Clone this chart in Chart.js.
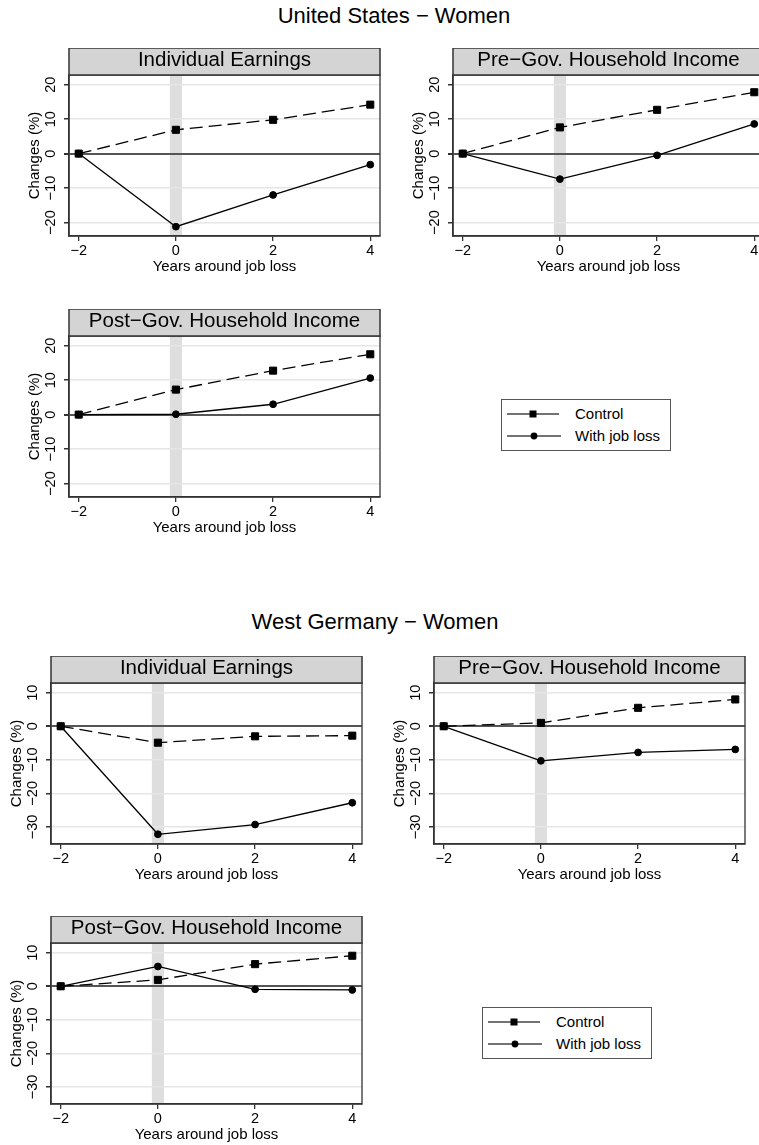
<!DOCTYPE html>
<html>
<head>
<meta charset="utf-8">
<title>Changes around job loss - Women</title>
<script src="https://cdn.jsdelivr.net/npm/chart.js@4.4.1/dist/chart.umd.min.js"></script>
<style>
  html, body { margin: 0; padding: 0; background: #fff; }
  body { width: 759px; height: 1145px; position: relative; overflow: hidden; font-family: "Liberation Sans", Arial, sans-serif; color: #000; }
  .title { position: absolute; font-size: 22px; line-height: 22px; white-space: nowrap; transform: translateX(-50%); }
  .panel { position: absolute; width: 381px; height: 233px; }
  .legend { position: absolute; width: 170px; height: 52px; border: 1.5px solid #555; box-sizing: border-box; }
  .legend .row { position: absolute; left: 0; width: 100%; height: 20px; font-size: 15px; line-height: 20px; }
  .legend svg { position: absolute; left: 5px; top: 5px; }
  .legend span { position: absolute; left: 73px; top: 0; }
</style>
</head>
<body>

<div class="title" style="left:394px;top:5px">United States − Women</div>
<canvas id="us1" class="panel" style="left:19px;top:48px"></canvas>
<canvas id="us2" class="panel" style="left:403px;top:48px"></canvas>
<canvas id="us3" class="panel" style="left:19px;top:309px"></canvas>
<div class="legend" style="left:501px;top:399px">
  <div class="row" style="top:4px"><svg width="54" height="10"><line x1="0" y1="5" x2="52" y2="5" stroke="#444" stroke-width="1.5"/><rect x="22.5" y="1.5" width="7" height="7" fill="#000"/></svg><span>Control</span></div>
  <div class="row" style="top:26px"><svg width="54" height="10"><line x1="0" y1="5" x2="54" y2="5" stroke="#444" stroke-width="1.5"/><circle cx="27" cy="5" r="3.4" fill="#000"/></svg><span>With job loss</span></div>
</div>

<div class="title" style="left:375px;top:611px">West Germany − Women</div>
<canvas id="de1" class="panel" style="left:1px;top:656px"></canvas>
<canvas id="de2" class="panel" style="left:384px;top:656px"></canvas>
<canvas id="de3" class="panel" style="left:1px;top:916px"></canvas>
<div class="legend" style="left:482px;top:1007px">
  <div class="row" style="top:4px"><svg width="54" height="10"><line x1="0" y1="5" x2="52" y2="5" stroke="#444" stroke-width="1.5"/><rect x="22.5" y="1.5" width="7" height="7" fill="#000"/></svg><span>Control</span></div>
  <div class="row" style="top:26px"><svg width="54" height="10"><line x1="0" y1="5" x2="54" y2="5" stroke="#444" stroke-width="1.5"/><circle cx="27" cy="5" r="3.4" fill="#000"/></svg><span>With job loss</span></div>
</div>

<script>
// years relative to job loss
const years = [-2, 0, 2, 4];
const xTicks = [-2, 0, 2, 4];
const jobLossBand = [-0.125, 0.125];

// United States - Women (%)
const usEarnControl = [0, 6.9, 9.8, 14.2];
const usEarnJobLoss = [0, -21.2, -12.0, -3.2];
const usPreControl = [0, 7.6, 12.7, 17.8];
const usPreJobLoss = [0, -7.4, -0.5, 8.6];
const usPostControl = [0, 7.25, 12.75, 17.5];
const usPostJobLoss = [0, 0.1, 3.0, 10.6];
const usTicks = [-20, -10, 0, 10, 20];

// West Germany - Women (%)
const deEarnControl = [0, -4.9, -3.0, -2.8];
const deEarnJobLoss = [0, -32.2, -29.3, -22.8];
const dePreControl = [0, 1.0, 5.5, 8.0];
const dePreJobLoss = [0, -10.3, -7.8, -6.9];
const dePostControl = [0, 1.9, 6.6, 9.1];
const dePostJobLoss = [0, 5.9, -0.9, -1.1];
const deTicks = [-30, -20, -10, 0, 10];

const FONT = "'Liberation Sans', Arial, sans-serif";
Chart.defaults.font.family = FONT;
Chart.defaults.color = '#000';

const minusFmt = v => v < 0 ? '\u2212' + Math.abs(v) : String(v);

// grey band at year 0, under the grid
const bandPlugin = {
    id: 'band',
    beforeDraw(chart) {
        const {ctx, chartArea, scales: {x}} = chart;
        const x0 = x.getPixelForValue(jobLossBand[0]);
        const x1 = x.getPixelForValue(jobLossBand[1]);
        ctx.save();
        ctx.fillStyle = '#dedede';
        ctx.fillRect(x0, chartArea.top, x1 - x0, chartArea.bottom - chartArea.top);
        ctx.restore();
    }
};

// plot frame + grey title strip
const stripPlugin = {
    id: 'strip',
    afterDraw(chart, args, opts) {
        const {ctx, chartArea: a} = chart;
        ctx.save();
        ctx.strokeStyle = '#333';
        ctx.lineWidth = 1.3;
        ctx.strokeRect(a.left, a.top, a.right - a.left, a.bottom - a.top);
        const h = 27;
        ctx.fillStyle = '#d4d4d4';
        ctx.fillRect(a.left, a.top - h, a.right - a.left, h);
        ctx.lineWidth = 1.5;
        ctx.strokeRect(a.left, a.top - h, a.right - a.left, h);
        ctx.fillStyle = '#000';
        ctx.font = '20.5px ' + FONT;
        ctx.textAlign = 'center';
        ctx.textBaseline = 'alphabetic';
        ctx.fillText(opts.text, (a.left + a.right) / 2, a.top - h + 18);
        ctx.restore();
    }
};

function makePanel(id, title, control, jobLoss, yTicks, yMin, yMax) {
    const ctx = document.getElementById(id).getContext('2d');
    return new Chart(ctx, {
        type: 'line',
        data: {
            datasets: [{
                label: 'Control',
                data: years.map((x, i) => ({x: x, y: control[i]})),
                borderColor: '#000',
                borderWidth: 1.3,
                borderDash: [13, 6],
                pointStyle: 'rect',
                pointRadius: 5,
                pointBackgroundColor: '#000',
                pointBorderColor: '#000',
                pointBorderWidth: 1,
                tension: 0
            }, {
                label: 'With job loss',
                data: years.map((x, i) => ({x: x, y: jobLoss[i]})),
                borderColor: '#000',
                borderWidth: 1.3,
                pointStyle: 'circle',
                pointRadius: 3.4,
                pointBackgroundColor: '#000',
                pointBorderColor: '#000',
                pointBorderWidth: 1,
                tension: 0
            }]
        },
        options: {
            responsive: false,
            animation: false,
            events: [],
            layout: { padding: { top: 27, right: 20, left: 0, bottom: 0 } },
            plugins: {
                legend: { display: false },
                tooltip: { enabled: false },
                strip: { text: title }
            },
            scales: {
                x: {
                    type: 'linear',
                    min: -2.2,
                    max: 4.2,
                    afterBuildTicks: s => { s.ticks = xTicks.map(v => ({value: v})); },
                    afterFit: s => { s.height = 45; },
                    grid: { drawOnChartArea: false, tickLength: 5, tickColor: '#333', lineWidth: 1.3 },
                    border: { color: '#333', width: 1.5 },
                    ticks: { font: { size: 14.5 }, padding: 1.3, callback: minusFmt },
                    title: {
                        display: true,
                        text: 'Years around job loss',
                        font: { size: 15 },
                        padding: { top: 0, bottom: 5.3 }
                    }
                },
                y: {
                    min: yMin,
                    max: yMax,
                    afterBuildTicks: s => { s.ticks = yTicks.map(v => ({value: v})); },
                    afterFit: s => { s.width = 50; },
                    grid: {
                        color: c => c.tick && c.tick.value === 0 ? '#555' : '#e6e6e6',
                        lineWidth: c => c.tick && c.tick.value === 0 ? 2 : 1.5,
                        tickLength: 5,
                        tickColor: '#333'
                    },
                    border: { color: '#333', width: 1.5 },
                    ticks: {
                        minRotation: 90,
                        maxRotation: 90,
                        crossAlign: 'center',
                        padding: 1.2,
                        font: { size: 14.5 },
                        callback: minusFmt
                    },
                    title: {
                        display: true,
                        text: 'Changes (%)',
                        font: { size: 15 },
                        padding: { top: 7, bottom: 0 }
                    }
                }
            }
        },
        plugins: [bandPlugin, stripPlugin]
    });
}

// canvas size set explicitly (CSS px, dpr 1)
document.querySelectorAll('canvas.panel').forEach(c => { c.width = 381; c.height = 233; });

makePanel('us1', 'Individual Earnings', usEarnControl, usEarnJobLoss, usTicks, -23.9, 22.8);
makePanel('us2', 'Pre\u2212Gov. Household Income', usPreControl, usPreJobLoss, usTicks, -23.9, 22.8);
makePanel('us3', 'Post\u2212Gov. Household Income', usPostControl, usPostJobLoss, usTicks, -23.9, 22.8);
makePanel('de1', 'Individual Earnings', deEarnControl, deEarnJobLoss, deTicks, -35.1, 12.9);
makePanel('de2', 'Pre\u2212Gov. Household Income', dePreControl, dePreJobLoss, deTicks, -35.1, 12.9);
makePanel('de3', 'Post\u2212Gov. Household Income', dePostControl, dePostJobLoss, deTicks, -35.1, 12.9);
</script>
</body>
</html>
